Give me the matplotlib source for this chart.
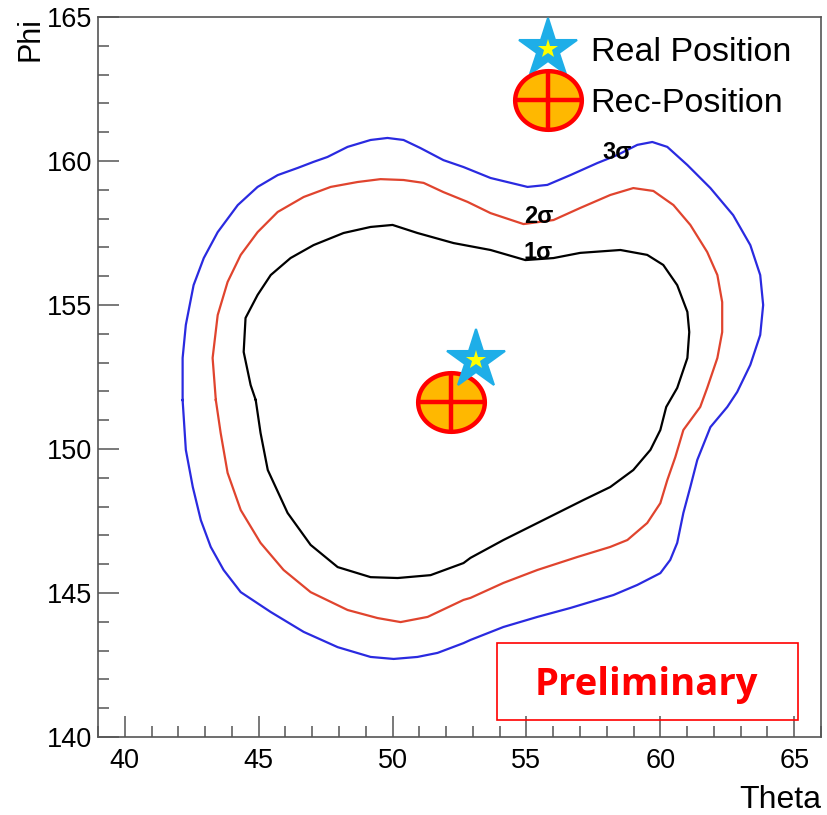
import numpy as np
import matplotlib
matplotlib.use("Agg")
import matplotlib.pyplot as plt
from matplotlib.path import Path
from matplotlib.lines import Line2D
from matplotlib.legend_handler import HandlerTuple
from matplotlib.patches import Rectangle

# ---------------- data ----------------
theta_3s = [42.16, 42.16, 42.28, 42.57, 42.95, 43.47, 44.22, 44.96, 45.71, 46.46, 47.05, 47.57,
            48.32, 49.18, 49.81, 50.41, 51.04, 51.90, 52.65, 53.66, 55.04, 55.78, 56.64, 57.65,
            58.40, 59.14, 59.70, 60.26, 61.01, 61.87, 62.72, 63.36, 63.73, 63.84, 63.73, 63.36,
            62.87, 62.50, 61.87, 61.38, 61.12, 60.86, 60.63, 60.37, 60.00, 59.14, 58.25, 56.64,
            55.41, 54.14, 52.91, 52.65, 51.68, 50.93, 50.04, 49.18, 47.95, 46.68, 45.45, 44.33,
            43.69, 43.21, 42.84, 42.54, 42.28]
phi_3s = [151.70, 153.16, 154.31, 155.69, 156.63, 157.53, 158.47, 159.10, 159.51, 159.76, 159.97, 160.14,
          160.49, 160.73, 160.80, 160.73, 160.45, 160.03, 159.79, 159.41, 159.10, 159.17, 159.51, 159.93,
          160.21, 160.56, 160.66, 160.49, 159.86, 159.06, 158.12, 157.08, 156.04, 155.00, 153.96, 152.92,
          151.98, 151.46, 150.76, 149.62, 148.68, 147.78, 146.74, 146.15, 145.69, 145.28, 144.93, 144.48,
          144.17, 143.82, 143.37, 143.26, 142.92, 142.78, 142.71, 142.78, 143.12, 143.65, 144.34, 145.03,
          145.80, 146.60, 147.53, 148.68, 149.97]

theta_2s = [43.40, 43.28, 43.47, 43.84, 44.33, 44.96, 45.71, 46.68, 47.69, 48.69, 49.55, 50.41,
            51.16, 51.90, 52.80, 53.66, 54.89, 56.01, 57.01, 58.13, 58.99, 59.74, 60.49, 61.12,
            61.75, 62.13, 62.31, 62.31, 62.13, 61.75, 61.49, 60.86, 60.56, 60.26, 60.00, 59.51,
            58.77, 58.13, 56.90, 55.41, 54.14, 52.91, 52.65, 51.31, 50.30, 49.44, 48.32, 46.94,
            45.93, 45.07, 44.33, 43.84, 43.58]
phi_2s = [151.70, 153.16, 154.65, 155.80, 156.74, 157.53, 158.23, 158.75, 159.10, 159.27, 159.37, 159.34,
          159.24, 158.92, 158.58, 158.19, 157.81, 157.95, 158.37, 158.82, 159.06, 158.96, 158.47, 157.78,
          156.84, 156.04, 155.10, 154.06, 153.16, 152.12, 151.46, 150.66, 149.72, 148.92, 148.12, 147.43,
          146.84, 146.60, 146.25, 145.80, 145.35, 144.83, 144.76, 144.17, 143.99, 144.13, 144.41, 145.03,
          145.80, 146.74, 147.88, 149.17, 150.56]

theta_1s = [44.89, 44.70, 44.44, 44.51, 44.96, 45.45, 46.19, 47.05, 48.17, 49.18, 50.00, 50.93,
            52.28, 53.66, 54.96, 56.01, 57.01, 58.51, 59.51, 60.11, 60.63, 61.01, 61.08, 61.01,
            60.63, 60.22, 60.00, 59.63, 58.99, 58.13, 57.13, 55.41, 54.14, 52.91, 52.65, 51.42,
            50.19, 49.18, 47.95, 46.94, 46.08, 45.34, 45.07]
phi_1s = [151.70, 152.22, 153.37, 154.55, 155.35, 156.04, 156.63, 157.08, 157.50, 157.71, 157.78, 157.50,
          157.15, 156.91, 156.56, 156.63, 156.81, 156.91, 156.74, 156.39, 155.69, 154.76, 154.06, 153.16,
          152.12, 151.46, 150.66, 149.97, 149.27, 148.68, 148.23, 147.43, 146.84, 146.22, 146.04, 145.62,
          145.52, 145.55, 145.90, 146.67, 147.78, 149.27, 150.56]

sigma_labels = ["1\u03c3", "2\u03c3", "3\u03c3"]
sigma_label_theta = [55.45, 55.45, 58.40]
sigma_label_phi = [156.84, 158.06, 160.28]

real_theta, real_phi = 53.13, 153.09
rec_theta, rec_phi = 52.20, 151.63

legend_labels = ["Real Position", "Rec-Position"]
x_ticks = [40, 45, 50, 55, 60, 65]
y_ticks = [140, 145, 150, 155, 160, 165]

# ---------------- style ----------------
plt.rcParams['font.family'] = ['Liberation Sans', 'DejaVu Sans']

fig = plt.figure(figsize=(8.27, 8.15), dpi=100)
ax = fig.add_axes([98/827, (815-737)/815, (821-98)/827, (737-17)/815])

def closed(a):
    return list(a) + [a[0]]

ax.plot(closed(theta_3s), closed(phi_3s), color='#2a2ae0', lw=1.6, zorder=2)
ax.plot(closed(theta_2s), closed(phi_2s), color='#e0442e', lw=1.6, zorder=2)
ax.plot(closed(theta_1s), closed(phi_1s), color='black', lw=1.6, zorder=2)

for lab, tx, py in zip(sigma_labels, sigma_label_theta, sigma_label_phi):
    ax.text(tx, py, lab, fontsize=17, fontweight='bold', ha='center', va='center', zorder=3)

# custom markers
t = np.linspace(0, 2*np.pi, 73)
ell_path = Path(np.column_stack([np.cos(t), 0.88*np.sin(t)]), closed=True)
cross_path = Path([(-1, 0), (1, 0), (0, -0.88), (0, 0.88)],
                  [Path.MOVETO, Path.LINETO, Path.MOVETO, Path.LINETO])

ELL_MS = 48
STAR_MS = 44
ell_kw = dict(marker=ell_path, ms=ELL_MS, mfc='#ffb800', mec='#ff0000', mew=3.2, ls='none')
crs_kw = dict(marker=cross_path, ms=ELL_MS, mfc='none', mec='#ff0000', mew=3.2, ls='none')
star_kw = dict(marker='*', ms=STAR_MS, mfc='#1eaee8', mec='#1eaee8', mew=1.5, ls='none')
istar_kw = dict(marker='*', ms=15, mfc='#ffff00', mec='#ffff00', mew=0, ls='none')

ax.plot([rec_theta], [rec_phi], zorder=4, **ell_kw)
ax.plot([rec_theta], [rec_phi], zorder=5, **crs_kw)
ax.plot([real_theta], [real_phi], zorder=6, **star_kw)
ax.plot([real_theta], [real_phi], zorder=7, **istar_kw)

h_star = (Line2D([], [], **star_kw), Line2D([], [], **istar_kw))
h_rec = (Line2D([], [], **ell_kw), Line2D([], [], **crs_kw))
ax.legend([h_star, h_rec], legend_labels, handler_map={tuple: HandlerTuple(ndivide=1)},
          loc='upper left', bbox_to_anchor=((514-98)/723, (737-37)/720), frameon=False,
          fontsize=24.5, handlelength=2.0, handletextpad=0.25, labelspacing=0.58,
          borderpad=0, borderaxespad=0)

# preliminary box
ax.add_patch(Rectangle(((497-98)/723, (737-720)/720), (798-497)/723, (720-643)/720,
                       transform=ax.transAxes, fill=False, ec='#ff0000', lw=1.2, zorder=8))
ax.text((646.5-98)/723, (737-695)/720, "Preliminary", transform=ax.transAxes,
        fontsize=27.5, fontweight='bold', color='#ff0000', family=['Open Sans', 'DejaVu Sans'],
        ha='center', va='baseline', zorder=9)

ax.set_xlim(39, 66)
ax.set_ylim(140, 165)
ax.set_xticks(x_ticks)
ax.set_yticks(y_ticks)
ax.set_xticks(np.arange(39, 67, 1), minor=True)
ax.set_yticks(np.arange(140, 166, 1), minor=True)
ax.tick_params(which='both', direction='in', top=False, right=False, color='#555555', width=1.1)
ax.tick_params(which='major', length=15)
ax.tick_params(which='minor', length=8)
ax.tick_params(axis='x', which='major', labelsize=19.5, pad=8)
ax.tick_params(axis='y', which='major', labelsize=19.5, pad=4)
for s in ax.spines.values():
    s.set_color('#555555')
    s.set_linewidth(1.2)

ax.set_xlabel('Theta', fontsize=23, loc='right', labelpad=8)
ax.set_ylabel('Phi', fontsize=22, loc='top', labelpad=1)

fig.savefig('out.png', dpi=100)
